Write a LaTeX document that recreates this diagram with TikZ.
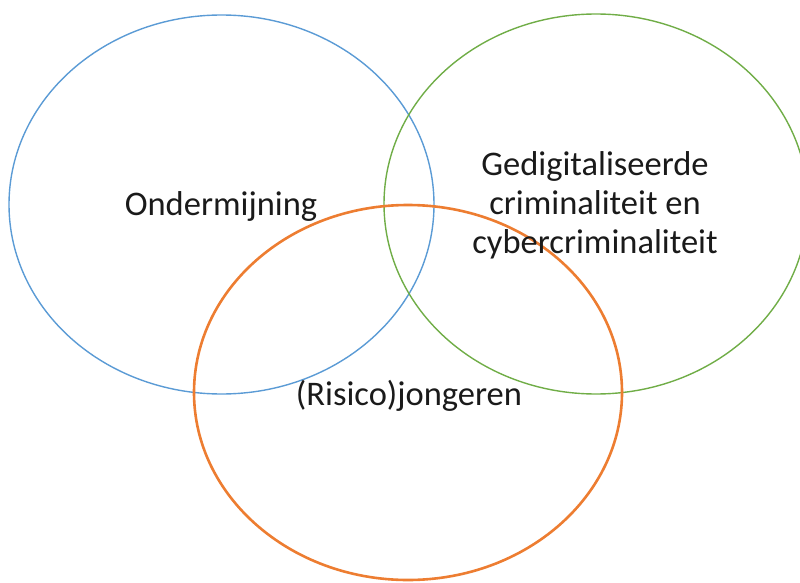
\documentclass[tikz,border=0pt]{standalone}
\usepackage{fontspec}
\setmainfont{Carlito}
\definecolor{cblue}{HTML}{5B9BD5}
\definecolor{cgreen}{HTML}{70AD47}
\definecolor{corange}{HTML}{ED7D31}
\definecolor{ctext}{HTML}{1A1A1A}
\begin{document}
\begin{tikzpicture}[x=1pt,y=-1pt,
  setring/.style={line width=1.4pt},
  label/.style={font=\fontsize{34.5}{39}\selectfont, text=ctext, inner sep=0pt, align=center}]
\useasboundingbox (0,0) rectangle (800,583);
\draw[setring, cblue] (221.5,204.5) ellipse [x radius=212.5, y radius=189.5];
\draw[setring, cgreen] (596,204) ellipse [x radius=212, y radius=190];
\draw[setring, corange, line width=2.6pt] (408,392.5) ellipse [x radius=214, y radius=187.5];
\node[label, anchor=base] (ond) at (221,215) {Ondermijning};
\node[label, anchor=base] (gdc) at (595,253) {Gedigitaliseerde\\criminaliteit en\\cybercriminaliteit};
\node[label, anchor=base] (rj) at (409,405) {(Risico)jongeren};
\end{tikzpicture}
\end{document}
